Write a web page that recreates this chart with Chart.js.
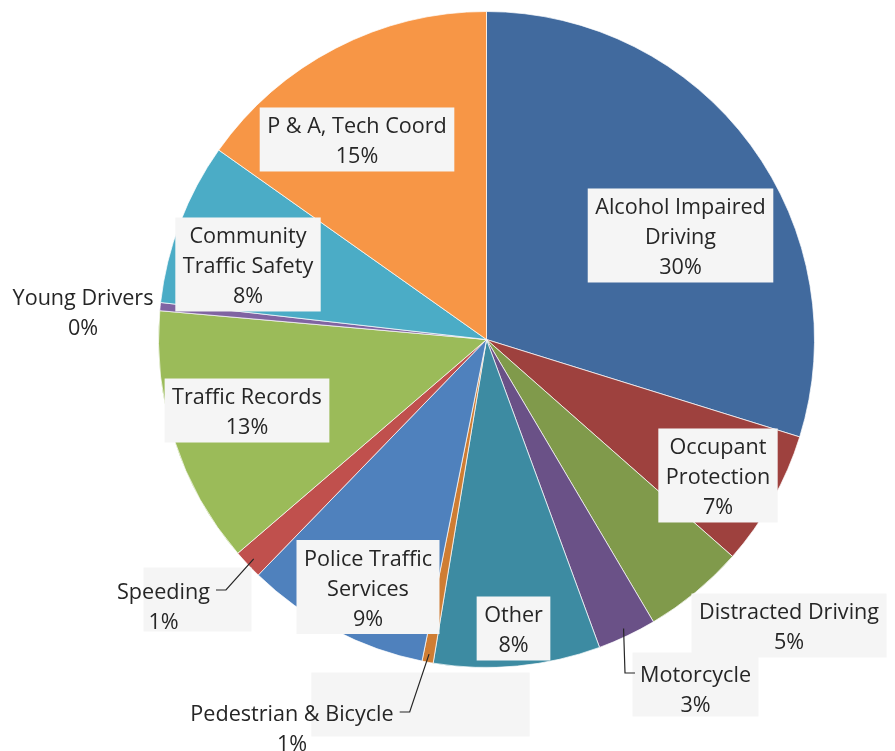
<!DOCTYPE html>
<html>
<head>
<meta charset="utf-8">
<script src="https://cdn.jsdelivr.net/npm/chart.js@4"></script>
<style>
html,body{margin:0;padding:0;background:#ffffff;}
#wrap{width:895px;height:751px;position:relative;}
</style>
</head>
<body>
<div id="wrap"><canvas id="c" width="895" height="751"></canvas></div>
<script>
// ---- data (share of total, %) ----
const categories = [
  "Alcohol Impaired Driving", "Occupant Protection", "Distracted Driving", "Motorcycle",
  "Other", "Pedestrian & Bicycle", "Police Traffic Services", "Speeding",
  "Traffic Records", "Young Drivers", "Community Traffic Safety", "P & A, Tech Coord"
];
const values = [29.8, 6.7, 5.0, 2.9, 8.2, 0.55, 9.1, 1.45, 12.7, 0.4, 8.0, 15.2];
const percentLabels = ["30%", "7%", "5%", "3%", "8%", "1%", "9%", "1%", "13%", "0%", "8%", "15%"];
const labelLines = [
  ["Alcohol Impaired", "Driving"], ["Occupant", "Protection"], ["Distracted Driving"], ["Motorcycle"],
  ["Other"], ["Pedestrian & Bicycle"], ["Police Traffic", "Services"], ["Speeding"],
  ["Traffic Records"], ["Young Drivers"], ["Community", "Traffic Safety"], ["P & A, Tech Coord"]
];

// ---- styling / layout ----
const colors = ["#416A9E", "#9E413E", "#809A4B", "#6A5187", "#3D8BA2", "#CF7D33",
                "#4F81BD", "#C0504D", "#9BBB59", "#8064A2", "#4BACC6", "#F79646"];
// label centres in units of the pie radius, relative to the pie centre
const labelLayout = [
  {fx: 0.5915, fy: -0.3171, box: true},
  {fx: 0.7058, fy: 0.4146, box: true},
  {fx: 0.9223, fy: 0.8720, box: true},
  {fx: 0.6372, fy: 1.0625, box: true, bx: 0.6372, by: 1.0518, leader: "left"},
  {fx: 0.0823, fy: 0.8811, box: true},
  {fx: -0.5930, fy: 1.1814, box: true, bx: -0.2012, by: 1.1128, leader: "right"},
  {fx: -0.3613, fy: 0.7546, box: true},
  {fx: -0.9848, fy: 0.8095, box: true, bx: -0.8811, by: 0.7927, leader: "right"},
  {fx: -0.7302, fy: 0.2165, box: true},
  {fx: -1.2302, fy: -0.0869, box: false},
  {fx: -0.7271, fy: -0.2287, box: true},
  {fx: -0.3948, fy: -0.6098, box: true}
];

const labelPlugin = {
  id: "sliceLabels",
  afterDatasetsDraw(chart) {
    const ctx = chart.ctx;
    const meta = chart.getDatasetMeta(0);
    const LH = 30;
    const TEXT_SHIFT = 2.5;
    ctx.save();
    ctx.font = '21.6px "Open Sans"';
    meta.data.forEach((arc, i) => {
      const L = labelLayout[i];
      const cx = arc.x, cy = arc.y, r = arc.outerRadius;
      const lines = [...labelLines[i], percentLabels[i]];
      const widths = lines.map(s => ctx.measureText(s).width);
      const maxW = Math.max(...widths);
      const h = lines.length * LH;
      const tx = cx + L.fx * r, ty = cy + L.fy * r;
      if (L.box) {
        const bx = cx + (L.bx !== undefined ? L.bx : L.fx) * r;
        const by = cy + (L.by !== undefined ? L.by : L.fy) * r;
        ctx.fillStyle = "#f5f5f5";
        ctx.fillRect(bx - maxW / 2 - 7.5, by - h / 2 - 2, maxW + 15, h + 4);
      }
      if (L.leader) {
        const mid = (arc.startAngle + arc.endAngle) / 2;
        const px = cx + Math.cos(mid) * r * 0.975;
        const py = cy + Math.sin(mid) * r * 0.975;
        const y1 = ty - h / 2 + LH * 0.5;
        const w1 = widths[0];
        let xa, xb;
        if (L.leader === "right") { xa = tx + w1 / 2 + 6; xb = xa + 10; }
        else { xa = tx - w1 / 2 - 5; xb = xa - 10; }
        ctx.strokeStyle = "#262626";
        ctx.lineWidth = 1.2;
        ctx.beginPath();
        ctx.moveTo(xa, y1);
        ctx.lineTo(xb, y1);
        ctx.lineTo(px, py);
        ctx.stroke();
      }
      ctx.fillStyle = "#262626";
      ctx.textAlign = "center";
      ctx.textBaseline = "middle";
      lines.forEach((s, k) => ctx.fillText(s, tx, ty - h / 2 + LH * (k + 0.5) + TEXT_SHIFT));
    });
    ctx.restore();
  }
};

new Chart(document.getElementById("c"), {
  type: "pie",
  data: {
    labels: categories,
    datasets: [{
      data: values,
      backgroundColor: colors,
      borderColor: "rgba(255,255,255,0.7)",
      borderWidth: 1
    }]
  },
  options: {
    responsive: false,
    animation: false,
    layout: {padding: {left: 158, right: 80, top: 11, bottom: 83}},
    plugins: {legend: {display: false}, tooltip: {enabled: false}}
  },
  plugins: [labelPlugin]
});
</script>
</body>
</html>
